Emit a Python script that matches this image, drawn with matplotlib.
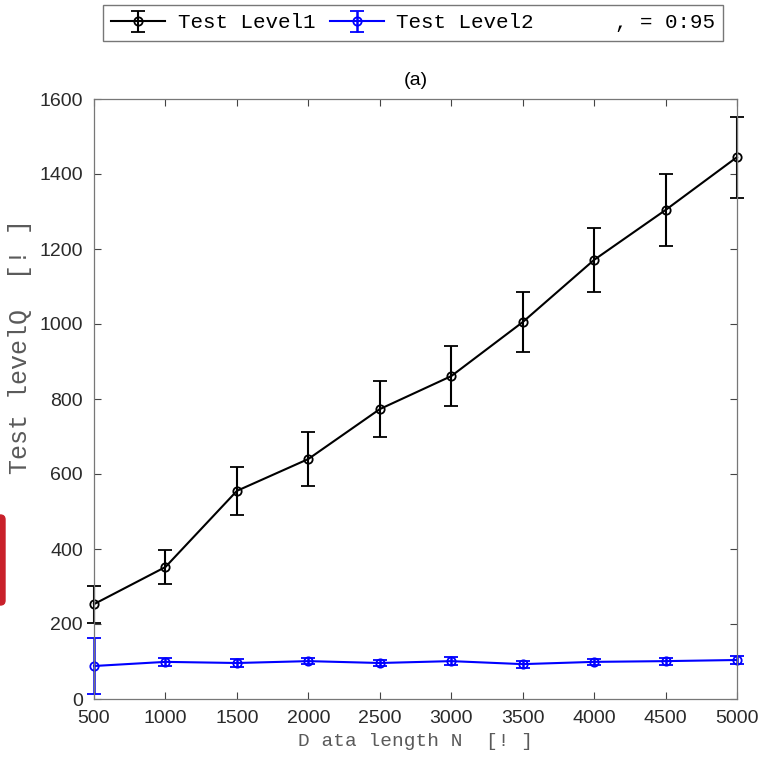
import matplotlib
matplotlib.use("Agg")
import matplotlib.pyplot as plt
from matplotlib.lines import Line2D
from matplotlib.patches import FancyBboxPatch

N = [500, 1000, 1500, 2000, 2500, 3000, 3500, 4000, 4500, 5000]
level1 = [253, 352, 555, 640, 773, 861, 1005, 1171, 1304, 1445]
level1_err = [49, 45, 64, 71, 74, 80, 80, 85, 96, 108]
level2 = [88, 99, 96, 101, 96, 101, 93, 99, 101, 104]
level2_err = [75, 10, 10, 8, 9, 10, 9, 9, 9, 11]

mono = "Liberation Mono"
sans = "Liberation Sans"
gray = "#5a5a5a"

fig = plt.figure(figsize=(7.6, 7.62), dpi=100)
ax = fig.add_axes([94 / 760, 1 - 699 / 762, (737 - 94) / 760, (699 - 99) / 762])

e1 = ax.errorbar(N, level1, yerr=level1_err, color="black", lw=1.5, marker="o",
                 ms=6, mfc="none", mew=1.3, capsize=5, capthick=1.5, elinewidth=1.5)
e2 = ax.errorbar(N, level2, yerr=level2_err, color="blue", lw=1.5, marker="o",
                 ms=6, mfc="none", mew=1.3, capsize=5, capthick=1.8, elinewidth=1.8)
for cont in (e1, e2):
    for art in cont.get_children():
        art.set_clip_on(False)

ax.set_xlim(500, 5000)
ax.set_ylim(0, 1600)
ax.set_xticks(N)
ax.set_yticks(range(0, 1601, 200))
ax.tick_params(direction="in", top=True, right=True, length=5, width=0.8,
               labelsize=14, labelcolor="#2a2a2a", color="#444444", pad=8)
for lab in ax.get_xticklabels() + ax.get_yticklabels():
    lab.set_fontfamily(sans)
for s in ax.spines.values():
    s.set_color("#777777")
    s.set_linewidth(0.9)

ax.set_xlabel("D ata length N  [! ]", family=mono, fontsize=14, color=gray, labelpad=4)
fig.text(20 / 760, 1 - 346 / 762, "Test levelQ  [! ]", family=mono, fontsize=18,
         color=gray, rotation=90, ha="center", va="center")
ax.set_title("(a)", family=sans, fontsize=14, pad=10)

h3 = Line2D([], [], color="none")
leg = fig.legend([e1, e2, h3], ["Test Level1", "Test Level2", ", = 0:95"],
                 loc="center", bbox_to_anchor=(413 / 760, 1 - 23 / 762), ncol=3,
                 prop={"family": mono, "size": 15}, frameon=True, fancybox=False,
                 edgecolor="#555555", handlelength=2.6, handletextpad=0.6,
                 columnspacing=0.7, borderpad=0.4)
leg.get_frame().set_linewidth(1.0)

fig.patches.append(FancyBboxPatch((-6 / 760, 1 - 605 / 762), 11 / 760, 90 / 762,
                                  boxstyle="round,pad=0,rounding_size=0.006",
                                  transform=fig.transFigure, color="#c8202a"))

fig.savefig("out.png", dpi=100)
